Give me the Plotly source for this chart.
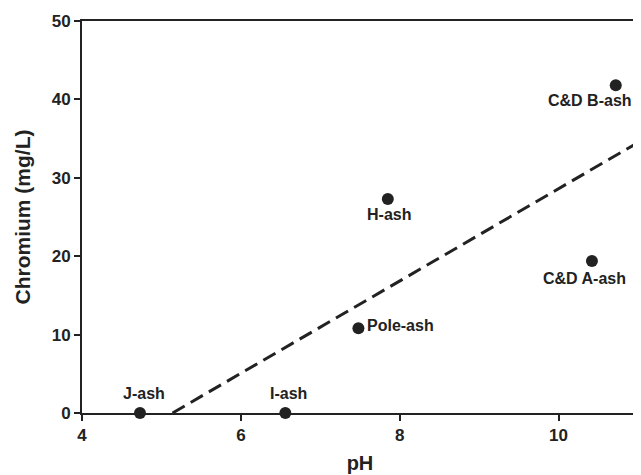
import plotly.graph_objects as go

names = ["J-ash", "I-ash", "Pole-ash", "H-ash", "C&D A-ash", "C&D B-ash"]
ph = [4.73, 6.56, 7.48, 7.85, 10.42, 10.72]
chromium = [0.0, 0.0, 10.8, 27.3, 19.4, 41.8]

fit_x = [5.14, 11.0]
fit_y = [0.0, 34.5]

x_ticks = [4, 6, 8, 10]
y_ticks = [0, 10, 20, 30, 40, 50]

label_pos = {
    "J-ash": dict(xshift=4, yshift=20),
    "I-ash": dict(xshift=3, yshift=20),
    "Pole-ash": dict(xshift=42, yshift=3),
    "H-ash": dict(xshift=1, yshift=-16),
    "C&D A-ash": dict(xshift=-7, yshift=-18),
    "C&D B-ash": dict(xshift=-26, yshift=-15),
}

ink = "#222222"
font = "Liberation Sans, Arial, sans-serif"

fig = go.Figure()
fig.add_trace(go.Scatter(x=fit_x, y=fit_y, mode="lines",
                         line=dict(color=ink, width=3, dash="14px,7px"),
                         hoverinfo="skip", showlegend=False))
fig.add_trace(go.Scatter(x=ph, y=chromium, mode="markers",
                         marker=dict(color=ink, size=12),
                         showlegend=False, cliponaxis=False))

for n, x, y in zip(names, ph, chromium):
    fig.add_annotation(x=x, y=y, text=n, showarrow=False,
                       font=dict(family=font, size=16, color=ink, weight="bold"),
                       **label_pos[n])

axis_common = dict(showline=True, linecolor=ink, linewidth=2, mirror=True,
                   ticks="outside", ticklen=6, tickwidth=2, tickcolor=ink,
                   showgrid=False, zeroline=False,
                   tickfont=dict(family=font, size=17, color=ink, weight="bold"))

fig.update_xaxes(range=[4, 11], tickvals=x_ticks, **axis_common,
                 title=dict(text="pH", font=dict(family=font, size=20, color=ink, weight="bold"),
                            standoff=12))
fig.update_yaxes(range=[0, 50], tickvals=y_ticks, **axis_common,
                 title=dict(text="Chromium (mg/L)",
                            font=dict(family=font, size=21, color=ink, weight="bold"),
                            standoff=15))

# page body has an 8px margin; figure sized so the plot area lands where the reference has it
fig.update_layout(width=633, height=467, margin=dict(l=74, r=1, t=13, b=62),
                  plot_bgcolor="white", paper_bgcolor="white")

fig.write_html("out.html")
